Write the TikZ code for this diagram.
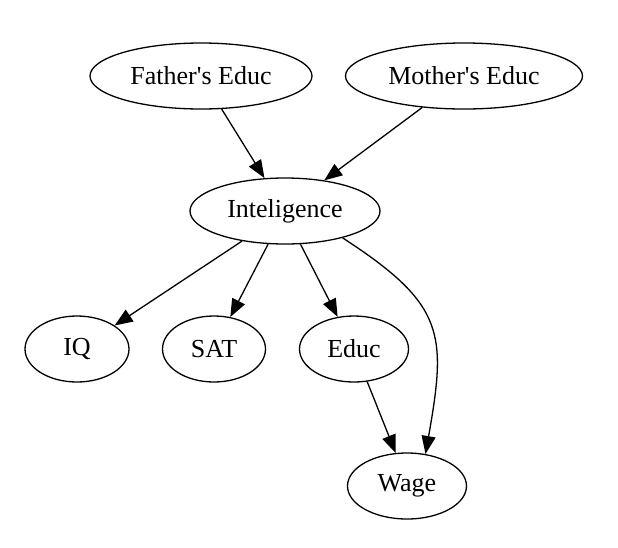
\documentclass[tikz,border=0pt]{standalone}
\usepackage{fontspec}
\setmainfont{Liberation Serif}
\usetikzlibrary{shapes.geometric,arrows.meta}

\begin{document}
\begin{tikzpicture}[font=\fontsize{26}{30}\selectfont,>={Triangle[length=18pt,width=14pt]},x=1pt,y=-1pt]
    \tikzset{
        var/.style={
            draw,ellipse,line width=1.3pt,inner sep=0pt,
            minimum height=66pt
        },
        flow/.style={->,line width=1.3pt}
    }
    \useasboundingbox (0,0) rectangle (618,547);

    \node[var,minimum width=222pt] (father) at (201,76) {Father\textquotesingle s Educ};
    \node[var,minimum width=237pt] (mother) at (464,76) {Mother\textquotesingle s Educ};
    \node[var,minimum width=190pt] (intel) at (285,211) {Inteligence};
    \node[var,minimum width=104pt] (iq) at (77,349) {IQ};
    \node[var,minimum width=103pt] (sat) at (214,349) {SAT};
    \node[var,minimum width=109pt] (educ) at (354,349) {Educ};
    \node[var,minimum width=119pt] (wage) at (407,486) {Wage};

    \foreach \a/\b in {
        father.302/intel.122,mother.217/intel.38,
        intel.215/iq.32,intel.243/sat.63,intel.295/educ.117,
        educ.292/wage.109}{
        \draw[flow] (\a) -- (\b);
    }
    \draw[flow] (intel.335) to[out=-33,in=80,looseness=1.35] (wage.60);
\end{tikzpicture}
\end{document}
